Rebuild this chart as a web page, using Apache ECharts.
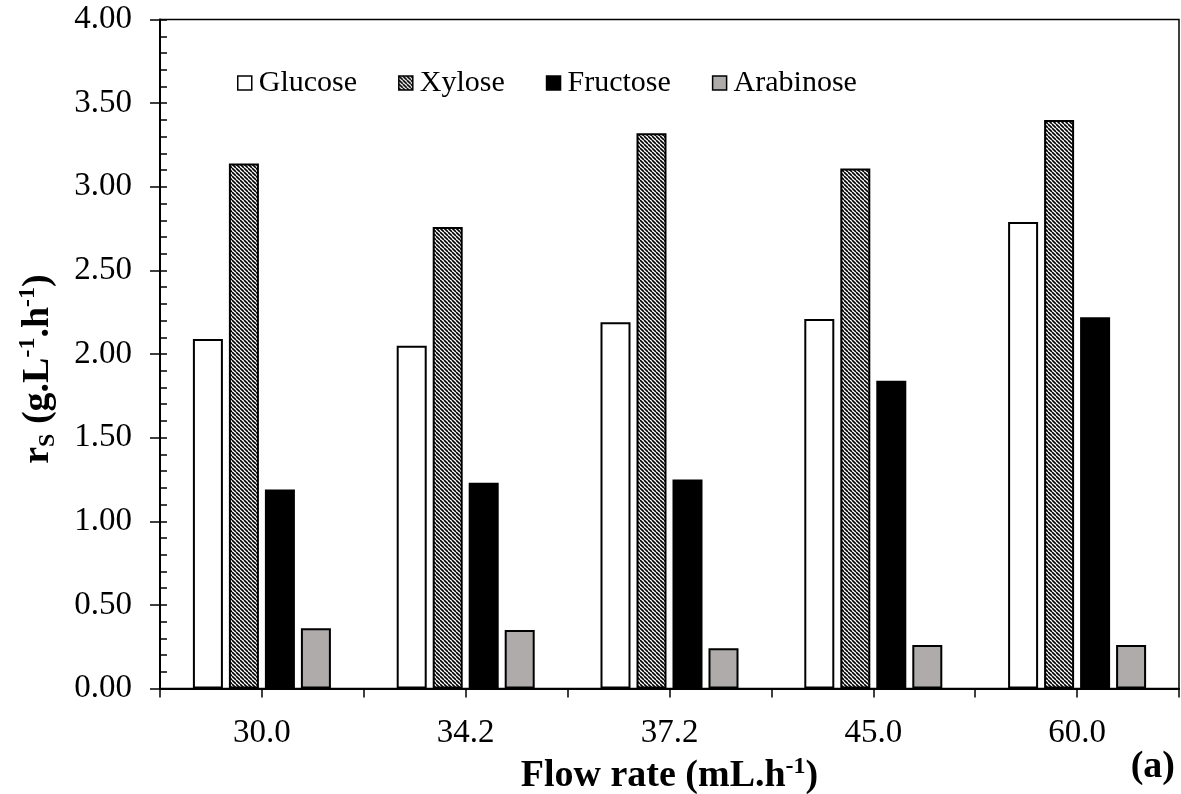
<!DOCTYPE html>
<html><head><meta charset="utf-8">
<script src="https://cdn.jsdelivr.net/npm/echarts@6/dist/echarts.min.js"></script>
<style>html,body{margin:0;padding:0;background:#fff}#c{width:1181px;height:794px}</style>
</head><body><div id="c"></div>
<script>
const categories = ['30.0', '34.2', '37.2', '45.0', '60.0'];
const seriesNames = ['Glucose', 'Xylose', 'Fructose', 'Arabinose'];
const glucose   = [2.09, 2.05, 2.19, 2.21, 2.79];
const xylose    = [3.14, 2.76, 3.32, 3.11, 3.40];
const fructose  = [1.19, 1.23, 1.25, 1.84, 2.22];
const arabinose = [0.36, 0.35, 0.24, 0.26, 0.26];
const yTicks = { min: 0, max: 4, interval: 0.5 };

const FONT = '"Liberation Serif", "Times New Roman", serif';
// hidden axis with two slots per category to draw boundary + centre ticks
const tickSlots = categories.flatMap(c => [c + '_l', c + '_r']);

function hatch() {
  const c = document.createElement('canvas');
  c.width = 4; c.height = 4;
  const g = c.getContext('2d');
  g.fillStyle = '#fff'; g.fillRect(0, 0, 4, 4);
  g.strokeStyle = '#000'; g.lineWidth = 1.6;
  g.beginPath();
  for (const o of [-4, 0, 4]) { g.moveTo(o, 0); g.lineTo(o + 4, 4); }
  g.stroke();
  return c;
}

const fills = ['#ffffff', { image: hatch(), repeat: 'repeat' }, '#000000', '#afabab'];
const values = [glucose, xylose, fructose, arabinose];

const chart = echarts.init(document.getElementById('c'), null, { renderer: 'canvas' });

const rich = {
  b: { fontSize: 38, fontWeight: 'bold', fontFamily: FONT, color: '#000', lineHeight: 44 },
  sup: { fontSize: 24, fontWeight: 'bold', fontFamily: FONT, color: '#000', verticalAlign: 'top', lineHeight: 44, padding: [0, 0, 14, 0] },
  sub: { fontSize: 24, fontWeight: 'bold', fontFamily: FONT, color: '#000', verticalAlign: 'bottom', lineHeight: 44, padding: [12, 0, 0, 0] }
};

chart.setOption({
  animation: false,
  backgroundColor: '#fff',
  grid: { left: 160, right: 2, top: 19.6, bottom: 105.5, show: true, borderColor: '#000', borderWidth: 1.5, containLabel: false, outerBoundsMode: 'none' },
  legend: {
    data: seriesNames, left: 232, top: 63, icon: 'rect', itemWidth: 14, itemHeight: 14, itemGap: 41,
    textStyle: { fontSize: 30, fontFamily: FONT, color: '#000', padding: [0, 0, 0, 2] },
    itemStyle: { borderColor: '#000', borderWidth: 1.5 }
  },
  xAxis: [
    {
      type: 'category', data: categories, position: 'bottom',
      axisLine: { show: true, lineStyle: { color: '#000', width: 2 } },
      axisTick: { show: false },
      axisLabel: { color: '#000', fontSize: 33, fontFamily: FONT, margin: 28 },
      splitLine: { show: false },
      name: '{b|Flow rate (mL.h}{sup|-1}{b|)}',
      nameLocation: 'middle', nameGap: 51,
      nameTextStyle: { rich: rich }
    },
    {
      type: 'category', data: tickSlots, position: 'bottom',
      axisLine: { show: false },
      axisTick: { show: true, interval: 0, length: 9, lineStyle: { color: '#000', width: 1.5 } },
      axisLabel: { show: false, interval: 0 }, splitLine: { show: false }
    }
  ],
  yAxis: [
    {
      type: 'value', min: yTicks.min, max: yTicks.max, interval: yTicks.interval, position: 'left',
      axisLine: { show: true, lineStyle: { color: '#000', width: 2 } },
      axisTick: { show: true, inside: true, length: 7, lineStyle: { color: '#000', width: 1.5 } },
      minorTick: { show: true, splitNumber: 5, length: 7, lineStyle: { color: '#000', width: 1.5 } },
      splitLine: { show: false },
      axisLabel: { formatter: v => v.toFixed(2), fontSize: 33, fontFamily: FONT, color: '#000', margin: 28 },
      name: '{b|r}{sub|S}{b| (g.L}{sup|-1}{b|.h}{sup|-1}{b|)}',
      nameLocation: 'middle', nameRotate: 90, nameGap: 100,
      nameTextStyle: { rich: rich, padding: [0, 30, 0, 0] }
    },
    {
      type: 'value', min: yTicks.min, max: yTicks.max, interval: yTicks.interval, position: 'left',
      axisLine: { show: false },
      axisTick: { show: true, inside: false, length: 10, lineStyle: { color: '#000', width: 1.5 } },
      axisLabel: { show: false }, splitLine: { show: false }
    }
  ],
  graphic: [{
    type: 'text', right: 6, top: 748,
    style: { text: '(a)', font: 'bold 38px ' + FONT, fill: '#000' }
  }],
  series: seriesNames.map((n, i) => ({
    name: n, type: 'bar', xAxisIndex: 0, yAxisIndex: 0, data: values[i],
    barWidth: 30, barGap: '20%',
    itemStyle: { color: fills[i], borderColor: '#000', borderWidth: 2 },
    silent: true
  }))
});
</script></body></html>
